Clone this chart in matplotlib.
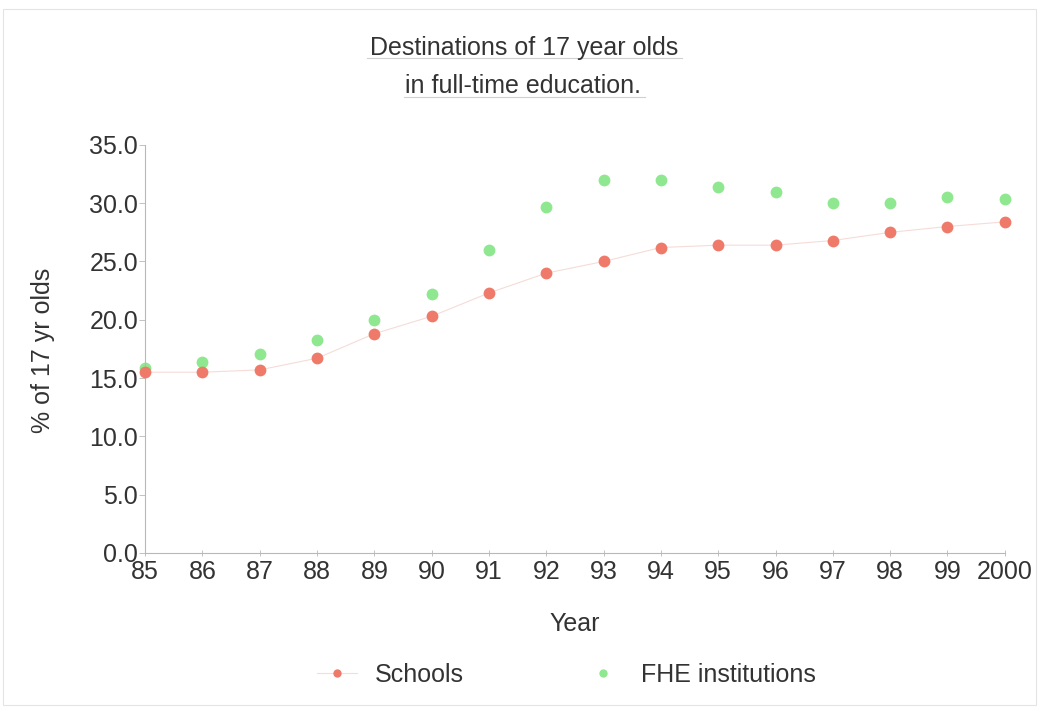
import numpy as np
import matplotlib.pyplot as plt
from matplotlib.lines import Line2D
from matplotlib.patches import Rectangle

plt.rcParams['font.family'] = ['Liberation Sans', 'DejaVu Sans']

years = ['85', '86', '87', '88', '89', '90', '91', '92',
         '93', '94', '95', '96', '97', '98', '99', '2000']
schools = [15.5, 15.5, 15.7, 16.7, 18.8, 20.3, 22.3, 24.0,
           25.0, 26.2, 26.4, 26.4, 26.8, 27.5, 28.0, 28.4]
fhe = [15.9, 16.4, 17.1, 18.3, 20.0, 22.2, 26.0, 29.7,
       32.0, 32.0, 31.4, 31.0, 30.0, 30.0, 30.5, 30.4]

red = '#f07a6a'
green = '#8fe88f'
txt = '#333333'
fs = 18

fig = plt.figure(figsize=(10.39, 7.07), dpi=100)
ax = fig.add_axes([0.1396, 0.218, 0.8275, 0.577])

x = np.arange(len(years))
ax.plot(x, schools, color='#f5dcd8', lw=0.8, zorder=1, clip_on=False)
ax.plot(x, schools, ls='none', marker='o', ms=8.5, color=red, mec='none',
        zorder=3, clip_on=False)
ax.plot(x, fhe, ls='none', marker='o', ms=8.5, color=green, mec='none',
        zorder=2, clip_on=False)

ax.set_xlim(0, len(years) - 1)
ax.set_ylim(0, 35)
ax.set_yticks(np.arange(0, 35.1, 5))
ax.set_yticklabels([f'{v:.1f}' for v in np.arange(0, 35.1, 5)])
ax.set_xticks(x)
ax.set_xticklabels(years)

for s in ['top', 'right']:
    ax.spines[s].set_visible(False)
for s in ['left', 'bottom']:
    ax.spines[s].set_color('#b8b8b8')
    ax.spines[s].set_linewidth(0.8)
ax.tick_params(axis='y', direction='out', length=4, width=0.6, color='#b8b8b8',
               labelsize=fs, labelcolor=txt, pad=1)
ax.tick_params(axis='x', direction='inout', length=4, width=0.6, color='#b8b8b8',
               labelsize=fs, labelcolor=txt, pad=3)
ax.patch.set_alpha(0)

fig.text(0.041, 0.505, '% of 17 yr olds', rotation=90, ha='center', va='center',
         fontsize=fs, color=txt)
fig.text(0.553, 0.118, 'Year', ha='center', va='center', fontsize=fs, color=txt)

fig.text(0.5045, 0.932, 'Destinations of 17 year olds', ha='center', va='center',
         fontsize=fs, color=txt)
fig.text(0.5035, 0.879, 'in full-time education.', ha='center', va='center',
         fontsize=fs, color=txt)
fig.add_artist(Line2D([367 / 1039, 682 / 1039], [1 - 58 / 707, 1 - 58 / 707],
                      color='#d0d0d0', lw=0.8))
fig.add_artist(Line2D([404 / 1039, 645 / 1039], [1 - 97 / 707, 1 - 97 / 707],
                      color='#d0d0d0', lw=0.8))

handles = [Line2D([], [], color='#f5dcd8', lw=0.8, marker='o', ms=6,
                  mfc=red, mec='none'),
           Line2D([], [], ls='none', marker='o', ms=6, mfc=green, mec='none')]
fig.legend(handles, ['Schools', 'FHE institutions'], loc='center',
           bbox_to_anchor=(0.545, 0.045), ncol=2, frameon=False,
           fontsize=fs, handlelength=1.6, columnspacing=4.8, handletextpad=0.7,
           labelcolor=txt)

fig.add_artist(Rectangle((0.003, 0.003), 0.994, 0.984, transform=fig.transFigure,
                         fill=False, ec='#e4e4e4', lw=0.8))

fig.savefig('out.png', dpi=100)
